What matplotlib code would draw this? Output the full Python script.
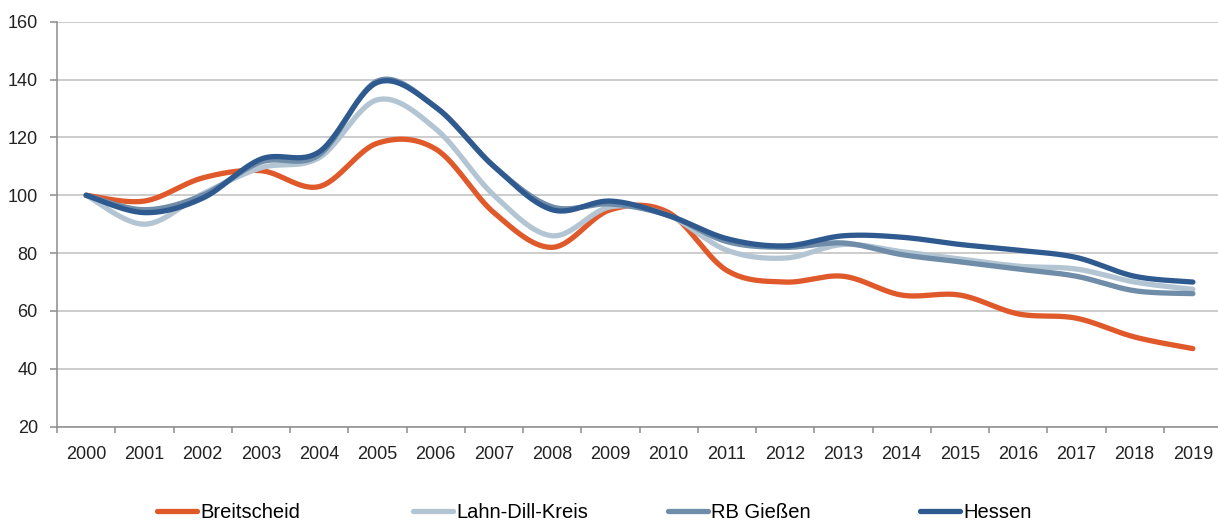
import numpy as np
import matplotlib
matplotlib.use("Agg")
import matplotlib.pyplot as plt
from matplotlib.lines import Line2D

years = [str(y) for y in range(2000, 2020)]
breitscheid = [100, 98, 106, 108.5, 103, 118, 116, 94, 82, 95, 94, 74, 70, 72, 65.5, 65.5, 59, 57.5, 51, 47]
lahn_dill = [100, 90, 100.5, 109.5, 113, 133, 123, 100, 86, 96, 93, 81, 78.3, 83, 80.5, 78, 75.5, 74.5, 70, 67.5]
rb_giessen = [100, 95, 100, 111.5, 114, 139.5, 130.5, 110, 96, 97, 93, 84, 82, 83.5, 79.5, 77, 74.5, 72, 67, 66]
hessen = [100, 94, 99, 112.5, 115, 139, 130.5, 110, 95, 98, 93, 85, 82.5, 86, 85.5, 83, 81, 78.5, 72, 70]

series = [
    ("Breitscheid", breitscheid, "#E0592A"),
    ("Lahn-Dill-Kreis", lahn_dill, "#B3C5D3"),
    ("RB Gießen", rb_giessen, "#6F8CA8"),
    ("Hessen", hessen, "#2F5A8F"),
]


def smooth(xs, ys, n=30):
    """Excel-style smoothed line (Catmull-Rom Bezier) through the points."""
    xs = np.asarray(xs, float)
    ys = np.asarray(ys, float)
    P = np.column_stack([xs, ys])
    P = np.vstack([P[0], P, P[-1]])
    out = []
    t = np.linspace(0, 1, n)[:, None]
    for i in range(1, len(P) - 2):
        p0, p1, p2, p3 = P[i - 1], P[i], P[i + 1], P[i + 2]
        c1 = p1 + (p2 - p0) / 6.0
        c2 = p2 - (p3 - p1) / 6.0
        seg = ((1 - t) ** 3) * p1 + 3 * ((1 - t) ** 2) * t * c1 + 3 * (1 - t) * t ** 2 * c2 + t ** 3 * p2
        out.append(seg if i == 1 else seg[1:])
    out = np.vstack(out)
    return out[:, 0], out[:, 1]


plt.rcParams["font.family"] = ["Liberation Sans", "DejaVu Sans"]

W, H = 1218, 525
fig = plt.figure(figsize=(W / 100, H / 100), dpi=100)
left, right = 57 / W, 1222 / W
bottom, top = (H - 426.7) / H, (H - 21.7) / H
ax = fig.add_axes([left, bottom, right - left, top - bottom])

x = np.arange(len(years))
lw = 3.8
for name, vals, col in series:
    sx, sy = smooth(x, vals)
    ax.plot(sx, sy, color=col, lw=lw, solid_capstyle="round", label=name, zorder=3)

ax.set_xlim(-0.5, len(years) - 0.5)
ax.set_ylim(20, 160)
ax.set_yticks(np.arange(20, 161, 20))
ax.yaxis.grid(True, color="#BFBFBF", lw=1.1)
ax.set_axisbelow(True)

ax.set_xticks(x)
ax.set_xticklabels(years)
ax.set_xticks(np.arange(-0.5, len(years), 1.0), minor=True)
ax.tick_params(axis="x", which="major", length=0, pad=14, labelsize=13, colors="#222222")
ax.tick_params(axis="x", which="minor", length=4.5, width=1.1, color="#8C8C8C", direction="out")
ax.tick_params(axis="y", which="major", length=4.8, width=1.1, color="#8C8C8C", pad=9,
               labelsize=13, labelcolor="#222222", direction="out")

for s in ["top", "right"]:
    ax.spines[s].set_visible(False)
for s in ["left", "bottom"]:
    ax.spines[s].set_color("#8C8C8C")
    ax.spines[s].set_linewidth(1.1)

# legend: one entry per slot, evenly spaced as in the reference
legend_x = [157, 413, 668, 920]
for (name, vals, col), lx in zip(series, legend_x):
    h = Line2D([0], [0], color=col, lw=lw, solid_capstyle="round")
    fig.legend(handles=[h], labels=[name], loc="center left",
               bbox_to_anchor=(lx / W, 12 / H), frameon=False,
               borderpad=0, borderaxespad=0, handlelength=2.0,
               handletextpad=0.15, fontsize=14.5)

fig.savefig("out.png", dpi=100)
